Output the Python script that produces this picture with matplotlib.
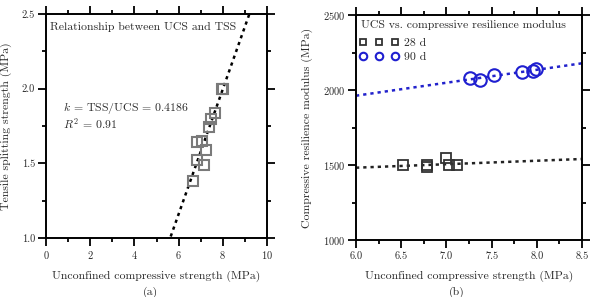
import matplotlib
matplotlib.use("Agg")
import matplotlib.pyplot as plt
import numpy as np
from matplotlib.ticker import MultipleLocator, FormatStrFormatter

plt.rcParams['font.family'] = ['cmr10', 'DejaVu Serif']
plt.rcParams['mathtext.fontset'] = 'cm'
plt.rcParams['axes.formatter.use_mathtext'] = True

# Panel (a) data
ucs_a = [6.63, 6.85, 7.16, 6.85, 7.08, 7.25, 7.39, 7.48, 7.66, 7.95, 8.03]
tss_a = [1.38, 1.52, 1.49, 1.64, 1.65, 1.59, 1.74, 1.80, 1.84, 2.00, 2.00]
fit_a_slope = 0.4186
fit_a_intercept = -1.352

# Panel (b) data
ucs_28 = [6.52, 6.79, 6.79, 7.00, 7.03, 7.12]
mod_28 = [1500, 1490, 1502, 1545, 1500, 1500]
ucs_90 = [7.26, 7.37, 7.53, 7.84, 7.96, 7.99]
mod_90 = [2082, 2067, 2100, 2118, 2127, 2140]
fit_28 = (23.2, 1482 - 23.2 * 6.0)
fit_90 = (86.4, 1962 - 86.4 * 6.0)

W, H = 596, 297
fig = plt.figure(figsize=(W / 100, H / 100), dpi=100)
TXT = '#2a2a2a'

def style(ax):
    for s in ax.spines.values():
        s.set_linewidth(1.4)
    ax.tick_params(which='both', direction='out', top=True, right=True, labelsize=7.5,
                   width=1.3, pad=2.5, labelcolor=TXT)
    ax.tick_params(which='major', length=5.5)
    ax.tick_params(which='minor', length=3)

ax1 = fig.add_axes([46 / W, (H - 238) / H, 221 / W, 224 / H])
ax1.plot(ucs_a, tss_a, linestyle='none', marker='s', markersize=7.5, markerfacecolor='none',
         markeredgecolor='#7a7a7a', markeredgewidth=1.5, zorder=3)
xs = np.array([0, 10.0])
ax1.plot(xs, fit_a_slope * xs + fit_a_intercept, color='black', lw=1.8, linestyle=(0, (1.3, 1.6)), zorder=2)
ax1.set_xlim(0, 10)
ax1.set_ylim(1.0, 2.5)
ax1.xaxis.set_major_locator(MultipleLocator(2))
ax1.xaxis.set_minor_locator(MultipleLocator(1))
ax1.yaxis.set_major_locator(MultipleLocator(0.5))
ax1.yaxis.set_minor_locator(MultipleLocator(0.25))
ax1.yaxis.set_major_formatter(FormatStrFormatter('%.1f'))
style(ax1)
ax1.set_xlabel('Unconfined compressive strength (MPa)', fontsize=8.5, labelpad=7, color=TXT)
ax1.set_ylabel('Tensile splitting strength (MPa)', fontsize=8.5, labelpad=7, color=TXT)
ax1.text(0.2, 2.41, 'Relationship between UCS and TSS', fontsize=8.5, va='center', ha='left', color=TXT)
ax1.text(0.75, 1.82, '$k$ = TSS/UCS = 0.4186\n$R^2$ = 0.91', fontsize=8.5, va='center', ha='left',
         color=TXT, linespacing=1.0)

ax2 = fig.add_axes([356 / W, (H - 240) / H, 226 / W, 225 / H])
ax2.plot(ucs_28, mod_28, linestyle='none', marker='s', markersize=6.8, markerfacecolor='none',
         markeredgecolor='#333333', markeredgewidth=1.3, zorder=3, label='28 d')
ax2.plot(ucs_90, mod_90, linestyle='none', marker='o', markersize=9, markerfacecolor='none',
         markeredgecolor='#1f1fd0', markeredgewidth=1.5, zorder=3, label='90 d')
xb = np.array([6.0, 8.5])
ax2.plot(xb, fit_28[0] * xb + fit_28[1], color='#222222', lw=1.8, linestyle=(0, (1.3, 1.6)), zorder=2)
ax2.plot(xb, fit_90[0] * xb + fit_90[1], color='#2222cc', lw=1.8, linestyle=(0, (1.3, 1.6)), zorder=2)
ax2.set_xlim(6.0, 8.5)
ax2.set_ylim(1000, 2500)
ax2.xaxis.set_major_locator(MultipleLocator(0.5))
ax2.xaxis.set_minor_locator(MultipleLocator(0.25))
ax2.yaxis.set_major_locator(MultipleLocator(500))
ax2.yaxis.set_minor_locator(MultipleLocator(250))
ax2.xaxis.set_major_formatter(FormatStrFormatter('%.1f'))
style(ax2)
ax2.set_xlabel('Unconfined compressive strength (MPa)', fontsize=8.5, labelpad=7, color=TXT)
ax2.set_ylabel('Compressive resilience modulus (MPa)', fontsize=8.5, labelpad=7, color=TXT)
ax2.text(5 / 226, 1 - 10 / 225, 'UCS vs. compressive resilience modulus', transform=ax2.transAxes,
         fontsize=8.5, va='center', ha='left', color=TXT)
leg = ax2.legend(loc='upper left', bbox_to_anchor=(0.0, 1 - 19 / 225), numpoints=3, frameon=False,
                 fontsize=8.5, markerscale=0.6, handlelength=3.3, handletextpad=0.45,
                 borderaxespad=0.0, borderpad=0.3, labelspacing=0.35)
for t in leg.get_texts():
    t.set_color(TXT)

fig.text(150 / W, 1 - 292 / H, '(a)', fontsize=8.5, ha='center', va='center', color=TXT)
fig.text(457 / W, 1 - 292 / H, '(b)', fontsize=8.5, ha='center', va='center', color=TXT)

fig.savefig('out.png', dpi=100)
